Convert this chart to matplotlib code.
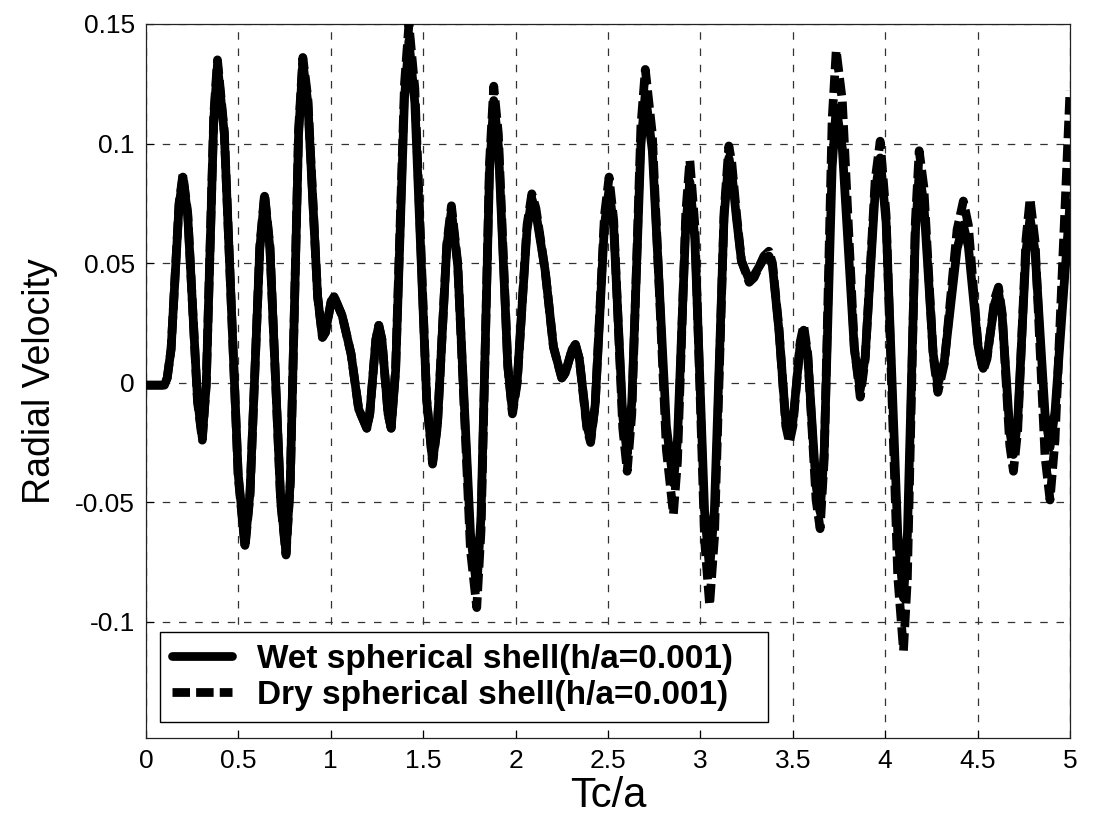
import matplotlib
matplotlib.use("Agg")
import matplotlib.pyplot as plt

# ---- data (Tc/a, radial velocity) ----
t_values = [
    0.000, 0.100, 0.115, 0.136, 0.179,
    0.200, 0.226, 0.279,
    0.305, 0.326, 0.367,
    0.387, 0.424, 0.499,
    0.536, 0.563, 0.616,
    0.642, 0.671, 0.729,
    0.758, 0.781, 0.826,
    0.849, 0.876, 0.929,
    0.955, 0.971, 1.002,
    1.018, 1.062, 1.110, 1.151,
    1.195, 1.211, 1.244,
    1.260, 1.277, 1.310,
    1.327, 1.351, 1.399,
    1.423, 1.455, 1.519,
    1.551, 1.577, 1.628,
    1.653, 1.687, 1.756,
    1.790, 1.813, 1.859,
    1.882, 1.907, 1.958,
    1.983, 2.009, 2.062,
    2.088, 2.110, 2.160, 2.205,
    2.250, 2.269, 2.306,
    2.324, 2.345, 2.386,
    2.406, 2.431, 2.481,
    2.506, 2.531, 2.580,
    2.604, 2.629, 2.678,
    2.702, 2.740, 2.816,
    2.854, 2.876, 2.921,
    2.943, 2.970, 3.023,
    3.050, 3.076, 3.128,
    3.154, 3.170, 3.195, 3.222,
    3.264, 3.291, 3.344,
    3.371, 3.390, 3.425, 3.462,
    3.482, 3.501, 3.540,
    3.559, 3.581, 3.626,
    3.648, 3.670, 3.713,
    3.735, 3.768, 3.833,
    3.865, 3.892, 3.946,
    3.973, 4.005, 4.068,
    4.099, 4.120, 4.163,
    4.184, 4.209, 4.260,
    4.285, 4.320, 4.389,
    4.423, 4.450, 4.503,
    4.530, 4.551, 4.592,
    4.613, 4.633, 4.674,
    4.694, 4.717, 4.762,
    4.784, 4.811, 4.865,
    4.892, 4.919, 5.000]

dry_velocity = [
    -0.001, -0.001, 0.002, 0.014, 0.075,
    0.087, 0.071, -0.008,
    -0.024, -0.001, 0.112,
    0.135, 0.105, -0.039,
    -0.069, -0.047, 0.057,
    0.079, 0.057, -0.050,
    -0.072, -0.042, 0.106,
    0.136, 0.119, 0.036,
    0.019, 0.021, 0.034,
    0.036, 0.028, 0.012, -0.011,
    -0.019, -0.013, 0.018,
    0.024, 0.018, -0.013,
    -0.019, 0.006, 0.125,
    0.150, 0.123, -0.007,
    -0.034, -0.018, 0.058,
    0.074, 0.050, -0.070,
    -0.094, -0.062, 0.092,
    0.124, 0.104, 0.007,
    -0.013, 0.000, 0.066,
    0.079, 0.073, 0.047, 0.015,
    0.002, 0.004, 0.014,
    0.016, 0.010, -0.019,
    -0.025, -0.009, 0.070,
    0.086, 0.068, -0.019,
    -0.037, -0.013, 0.107,
    0.131, 0.104, -0.028,
    -0.055, -0.033, 0.071,
    0.093, 0.066, -0.066,
    -0.093, -0.065, 0.071,
    0.099, 0.092, 0.071, 0.051,
    0.042, 0.044, 0.053,
    0.055, 0.050, 0.023, -0.018,
    -0.025, -0.018, 0.017,
    0.024, 0.012, -0.049,
    -0.061, -0.032, 0.110,
    0.139, 0.118, 0.015,
    -0.006, 0.010, 0.085,
    0.101, 0.070, -0.081,
    -0.112, -0.082, 0.067,
    0.097, 0.082, 0.011,
    -0.004, 0.008, 0.064,
    0.076, 0.066, 0.015,
    0.005, 0.010, 0.035,
    0.040, 0.029, -0.026,
    -0.037, -0.020, 0.060,
    0.077, 0.059, -0.031,
    -0.049, -0.024, 0.122]

wet_velocity = [
    -0.001, -0.001, 0.002, 0.014, 0.074,
    0.086, 0.070, -0.007,
    -0.023, -0.001, 0.110,
    0.133, 0.104, -0.038,
    -0.068, -0.046, 0.056,
    0.078, 0.056, -0.049,
    -0.071, -0.041, 0.104,
    0.134, 0.117, 0.036,
    0.019, 0.021, 0.034,
    0.036, 0.028, 0.012, -0.011,
    -0.019, -0.013, 0.018,
    0.024, 0.018, -0.013,
    -0.019, 0.005, 0.119,
    0.143, 0.117, -0.007,
    -0.033, -0.018, 0.057,
    0.072, 0.049, -0.063,
    -0.086, -0.056, 0.088,
    0.118, 0.099, 0.007,
    -0.012, 0.001, 0.064,
    0.077, 0.071, 0.047, 0.015,
    0.002, 0.004, 0.014,
    0.016, 0.010, -0.018,
    -0.024, -0.009, 0.066,
    0.081, 0.065, -0.014,
    -0.030, -0.008, 0.099,
    0.121, 0.097, -0.018,
    -0.042, -0.024, 0.066,
    0.084, 0.060, -0.054,
    -0.078, -0.053, 0.069,
    0.094, 0.088, 0.069, 0.051,
    0.043, 0.045, 0.052,
    0.053, 0.049, 0.022, -0.016,
    -0.022, -0.016, 0.016,
    0.022, 0.011, -0.043,
    -0.054, -0.029, 0.090,
    0.115, 0.098, 0.014,
    -0.003, 0.011, 0.080,
    0.094, 0.067, -0.063,
    -0.090, -0.064, 0.062,
    0.088, 0.075, 0.012,
    -0.001, 0.009, 0.056,
    0.066, 0.057, 0.015,
    0.006, 0.011, 0.033,
    0.038, 0.028, -0.020,
    -0.030, -0.016, 0.055,
    0.069, 0.055, -0.013,
    -0.027, -0.012, 0.075]

x_ticks = [0, 0.5, 1, 1.5, 2, 2.5, 3, 3.5, 4, 4.5, 5]
x_tick_labels = ["0", "0.5", "1", "1.5", "2", "2.5", "3", "3.5", "4", "4.5", "5"]
y_ticks = [-0.1, -0.05, 0, 0.05, 0.1, 0.15]
y_tick_labels = ["-0.1", "-0.05", "0", "0.05", "0.1", "0.15"]

wet_label = "Wet spherical shell(h/a=0.001)"
dry_label = "Dry spherical shell(h/a=0.001)"

plt.rcParams['font.family'] = ['Liberation Sans', 'DejaVu Sans']

fig = plt.figure(figsize=(10.99, 8.24), dpi=100)
ax = fig.add_axes([0.1328, 0.1044, 0.8408, 0.8665])

ax.plot(t_values, dry_velocity, color="black", lw=6.3, linestyle=(0, (2, 0.7)),
        dash_capstyle="butt", dash_joinstyle="round", label=dry_label, zorder=3)
ax.plot(t_values, wet_velocity, color="black", lw=6.3, linestyle="-",
        solid_joinstyle="round", solid_capstyle="round", label=wet_label, zorder=4)

ax.set_xlim(0, 5)
ax.set_ylim(-0.1485, 0.15)
ax.set_xticks(x_ticks)
ax.set_xticklabels(x_tick_labels)
ax.set_yticks(y_ticks)
ax.set_yticklabels(y_tick_labels)
ax.tick_params(labelsize=19, direction="in", length=6, width=0.8, pad=8)

ax.grid(True, color="#333333", linestyle=(0, (6, 7)), linewidth=0.9)
for s in ax.spines.values():
    s.set_linewidth(0.9)
    s.set_color("#222222")

ax.set_xlabel("Tc/a", fontsize=30, labelpad=2)
ax.set_ylabel("Radial Velocity", fontsize=27, labelpad=12)

handles, labels = ax.get_legend_handles_labels()
leg = ax.legend(handles[::-1], labels[::-1], loc="lower left",
                bbox_to_anchor=(0.0152, 0.022, 0.658, 0.126), mode="expand",
                fancybox=False, framealpha=1,
                edgecolor="black", prop={"weight": "bold", "size": 24},
                handlelength=1.8, handletextpad=0.75, labelspacing=0.15,
                borderpad=0.35, borderaxespad=0)
leg.get_frame().set_linewidth(1.0)

fig.savefig("out.png", dpi=100)
